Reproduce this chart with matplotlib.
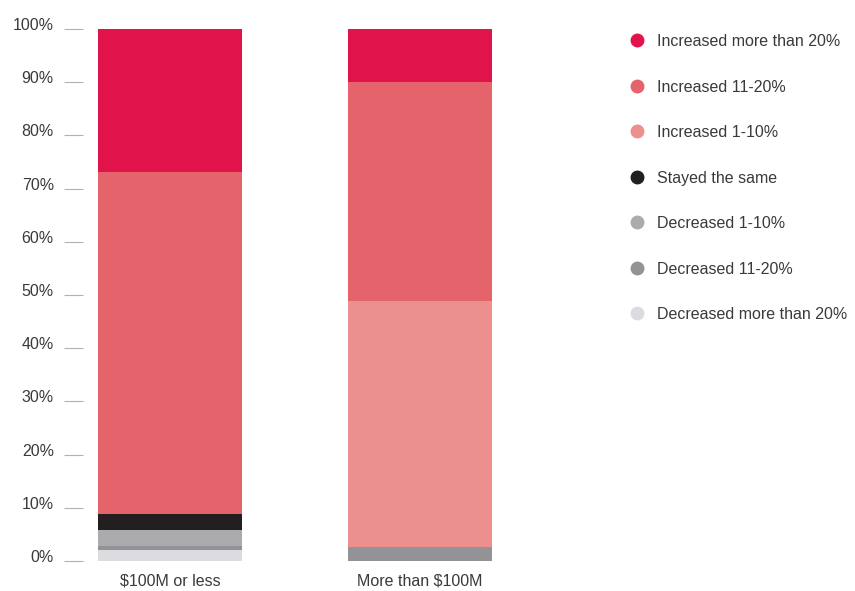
import numpy as np
import matplotlib.pyplot as plt
import matplotlib.transforms as mtransforms
from matplotlib.lines import Line2D

plt.rcParams['font.family'] = ['Liberation Sans', 'DejaVu Sans']

groups = ["\\$100M or less", "More than \\$100M"]
categories = ["Decreased more than 20%", "Decreased 11-20%", "Decreased 1-10%",
              "Stayed the same", "Increased 1-10%", "Increased 11-20%",
              "Increased more than 20%"]
# percent of respondents, bottom to top
small = [2.1, 0.8, 3.0, 3.0, 0.0, 64.2, 26.9]
large = [0.0, 2.6, 0.0, 0.0, 46.2, 41.2, 10.0]
colors = ["#dcdce0", "#939397", "#ababaf", "#231f20", "#ec908f", "#e5636a", "#e0144b"]

fig = plt.figure(figsize=(8.55, 5.91), dpi=100)
ax = fig.add_axes([83/855, 30/591, 477/855, 532/591])

x = np.arange(len(groups))
values = np.array([small, large])
bottom = np.zeros(len(groups))
for i, cat in enumerate(categories):
    ax.bar(x, values[:, i], bottom=bottom, width=0.576, color=colors[i], label=cat)
    bottom += values[:, i]

ax.set_xlim(-0.348, -0.348 + 477/250)
ax.set_ylim(0, 100)
ax.set_yticks(np.arange(0, 101, 10))
ax.set_yticklabels([f"{v}%" for v in range(0, 101, 10)])
ax.set_xticks(x)
ax.set_xticklabels(groups)
for s in ax.spines.values():
    s.set_visible(False)
ax.tick_params(axis='y', length=14, width=0.8, color='#b0b0b0', pad=7,
               labelsize=11.5, labelcolor='#3a3a3a')
ax.tick_params(axis='x', length=0, pad=9, labelsize=11.5, labelcolor='#3a3a3a')
# labels sit a little above their tick marks
shift = mtransforms.ScaledTranslation(0, 5/100, fig.dpi_scale_trans)
for lab in ax.get_yticklabels():
    lab.set_transform(lab.get_transform() + shift)

handles = [Line2D([], [], marker='o', linestyle='', markersize=9,
                  markerfacecolor=c, markeredgecolor=c) for c in colors[::-1]]
fig.legend(handles, categories[::-1], loc='upper left', bbox_to_anchor=(627/855, 1 - 34/591),
           frameon=False, fontsize=11.5, labelspacing=1.91, handletextpad=0.7,
           handlelength=1.2, borderpad=0, borderaxespad=0, labelcolor='#3a3a3a')

fig.savefig("out.png", dpi=100)
